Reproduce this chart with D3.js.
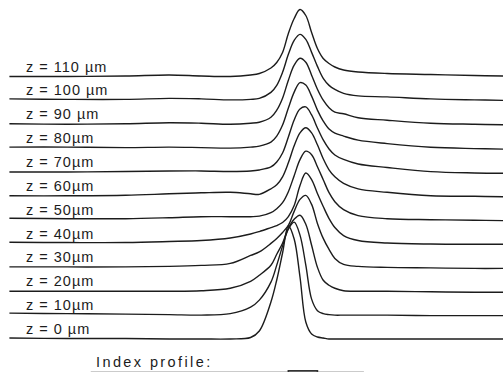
<html>
<head>
  <style>
  body { margin: 0; background: #fff; }
  #chart path.beam {
    fill: none;
    stroke: #1c1c1c;
    stroke-width: 1.4;
    stroke-linejoin: round;
  }
  #chart path.index {
    fill: none;
    stroke: #333;
    stroke-width: 1.6;
  }
  #chart text {
    fill: #1c1c1c;
    font-family: "Liberation Sans", Arial, sans-serif;
  }
  #chart text.zlab {
    font-size: 14.5px;
    letter-spacing: 1px;
  }
  #chart text.title {
    font-size: 14.5px;
    letter-spacing: 2.4px;
  }
  </style>
  <script src="https://d3js.org/d3.v7.min.js"></script>
</head>
<body>
  <svg id="chart"></svg>
</body>
  <script>

  // propagation distances and their labels
  var zValues = [0, 10, 20, 30, 40, 50, 60, 70, 80, 90, 100, 110];
  var zLabels = ["z = 0 µm", "z = 10µm", "z = 20µm", "z = 30µm", "z = 40µm", "z = 50µm",
                 "z = 60µm", "z = 70µm", "z = 80µm", "z = 90 µm", "z = 100 µm", "z = 110 µm"];

  // transverse position (µm) where the profiles were read
  var xPos = [-100, -80, -60, -45, -34, -24, -17, -14, -10, -8, -6, -4, -2,
              0, 2, 4, 6, 8, 10, 12, 15, 20, 30, 45, 60, 70];

  // field intensity (a.u.) for each z
  var i0   = [1, 0.5, 0.5, 0, 0, 0, 1.5, 8, 37, 59, 86, 113, 100, 62, 17, 5, 2, 1, 0, 0, 0, 0, 0, 0, 0, 0];
  var i10  = [2, 1.5, 1, 0.5, 0, 1.5, 8, 15, 33, 50, 69, 86, 93, 80, 50, 16, 4.5, 1.5, 0.5, 0, 0, 0, 0, -0.5, -0.5, -0.5];
  var i20  = [0, 0, 0, 0, 0.5, 3, 10, 16, 26, 37, 48, 63, 72, 76, 67, 46, 24, 11, 6, 3, 0.5, 0, 0, -0.5, -1, -1];
  var i30  = [0.5, 0.5, 0.5, 1, 2, 4, 12, 15.5, 24, 29, 35, 42, 56, 68, 72, 63, 44, 29, 18, 9, 3, 1, 0, -0.5, -1, -1];
  var i40  = [1.3, 1, 1, 2, 3, 5.5, 9.5, 12, 16, 18, 21, 27, 38, 58, 70.5, 64, 50, 37, 25, 16, 8, 3, 0.5, -0.5, -0.7, -0.7];
  var i50  = [1.5, 1, 1, 2, 3, 3, 3, 3.5, 7, 11, 17, 28, 44, 60, 68.5, 65, 53, 40, 27, 18, 10, 4, 1, 0, -0.5, -1];
  var i60  = [0, 0, 0.5, 2, 3, 3.5, 2, 1.5, 7, 11, 19, 33, 50, 63, 68, 63, 51, 37, 26, 19, 12.5, 7, 3.5, 0, -0.5, -1];
  var i70  = [0, 0, 0.5, 1, 1, 0.5, 1, 2, 5, 10, 19, 35, 52, 63, 65, 57, 44, 32, 23, 17, 12.5, 8, 4.5, 0.3, -1, -1.3];
  var i80  = [1, 1, 0.5, 1, 0.5, 0, 1, 2, 6, 12, 23, 40, 56, 65.5, 63, 52, 38, 27, 19, 15, 12, 8, 4.5, 0.8, -0.5, -1];
  var i90  = [0.5, 0, 0.5, 1.5, 1, 0, 1, 2, 7, 14, 26, 44, 59, 66, 62, 49, 35, 24, 16.5, 12, 10.5, 6.5, 4, 1, 0, -0.5];
  var i100 = [1.5, 1, 1, 2, 1.5, 0.5, 1, 2, 8, 15, 28, 46, 60, 66, 61, 48, 34, 22, 15, 11, 7, 4.5, 3.5, 1.5, 0.5, 0];
  var i110 = [0, 0, 0.5, 1.5, 0.5, 0, 1.5, 3, 8.5, 14, 24, 43, 58, 67, 61, 44, 28, 18, 13, 9.5, 6.5, 4.5, 3, 2, 1, 0.5];

  var intensities = [i0, i10, i20, i30, i40, i50, i60, i70, i80, i90, i100, i110];

  // index profile (only its top edge is inside the frame)
  var idxPos = [-72, -4, -4, 6, 6, 22];
  var idxDn  = [0, 0, 1, 1, 0, 0];

  var width = 503,
      height = 372;

  var x = d3.scaleLinear()
      .domain([-100, 70])
      .range([9.4, 503.4]);

  // vertical offset of each trace
  var zOff = d3.scaleLinear()
      .domain([0, 110])
      .range([339, 76.5]);

  // intensity -> lift in pixels
  var amp = d3.scaleLinear()
      .domain([0, 100])
      .range([0, 100]);

  var dn = d3.scaleLinear()
      .domain([0, 1])
      .range([372.5, 370.9]);

  var chart = d3.select("#chart")
      .attr("width", width)
      .attr("height", height);

  chart.append("rect")
      .attr("width", width)
      .attr("height", height)
      .attr("fill", "#fff");

  var traces = zValues.map(function(z, k) {
    return { z: z, label: zLabels[k], pts: xPos.map(function(p, j) { return [p, intensities[k][j]]; }) };
  });

  var g = chart.selectAll("g.trace")
      .data(traces)
    .enter().append("g")
      .attr("class", "trace");

  g.append("path")
      .attr("class", "beam")
      .attr("d", function(d) {
        var line = d3.line()
            .x(function(p) { return x(p[0]); })
            .y(function(p) { return zOff(d.z) - amp(p[1]); })
            .curve(d3.curveCatmullRom.alpha(0.5));
        return line(d.pts);
      });

  g.append("text")
      .attr("class", "zlab")
      .attr("x", 26)
      .attr("y", function(d) { return zOff(d.z) - 5; })
      .text(function(d) { return d.label; });

  chart.append("text")
      .attr("class", "title")
      .attr("x", 96)
      .attr("y", 367)
      .text("Index profile:");

  var idxLine = d3.line()
      .x(function(d) { return x(d); })
      .y(function(d, j) { return dn(idxDn[j]); });

  chart.append("path")
      .attr("class", "index")
      .attr("d", idxLine(idxPos));

  </script>
</html>
